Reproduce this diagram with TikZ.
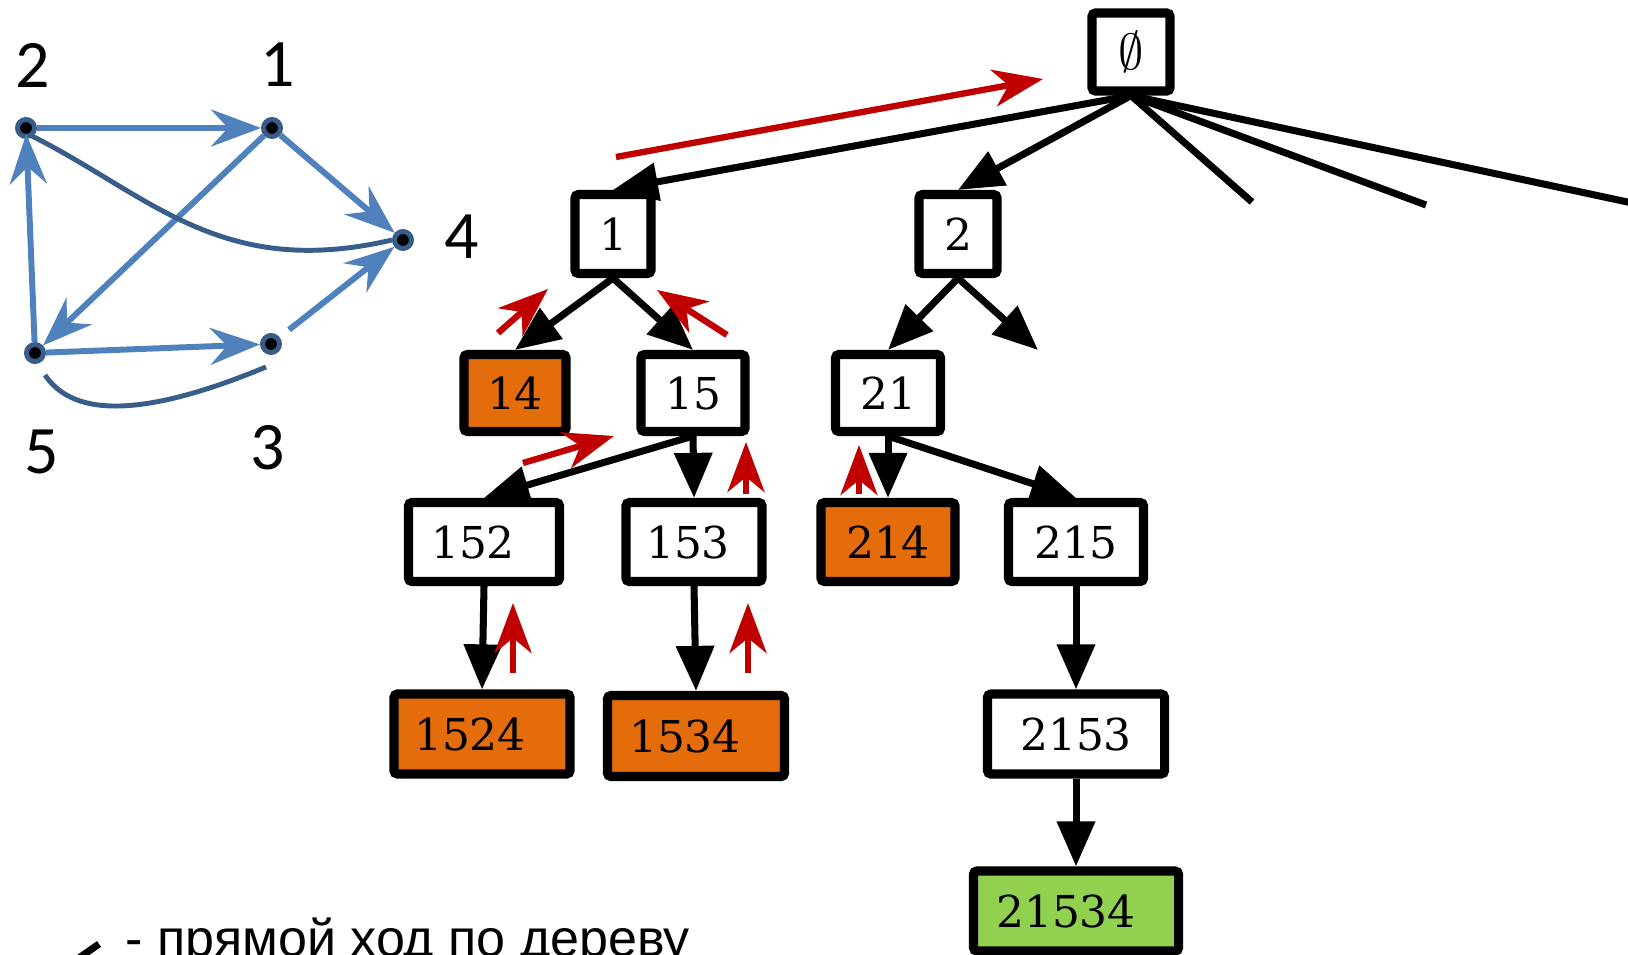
\documentclass[tikz,border=0pt]{standalone}
\usepackage{fontspec}
\newfontfamily\calibfont{Carlito}
\newfontfamily\arialfont{Liberation Sans}
\newfontfamily\cifrfont{DejaVu Serif}
\usetikzlibrary{arrows.meta}
\definecolor{sin}{HTML}{4F81BD}
\definecolor{tsin}{HTML}{385D8A}
\definecolor{krasn}{HTML}{C00000}
\definecolor{oranzh}{HTML}{E46C0A}
\definecolor{zel}{HTML}{92D050}
\newcommand{\lev}[2]{\hspace*{-#1}#2}
\tikzset{
  vershina/.style={circle,fill=black,draw=tsin,line width=1.4pt,minimum size=0.17cm,inner sep=0pt},
  metka/.style={font=\calibfont\fontsize{19.3}{22}\selectfont,inner sep=0pt},
  duga/.style={draw=sin,line width=1.7pt,-{Stealth[length=0.5cm,width=0.37cm,inset=0.17cm]}},
  krivaya/.style={draw=tsin,line width=1.4pt},
  yach/.style={draw,line width=2.6pt,rounded corners=1pt,fill=white,minimum height=0.79cm,
    inner sep=0pt,font=\cifrfont\fontsize{12.5}{15}\selectfont},
  tup/.style={yach,fill=oranzh},
  otvet/.style={yach,fill=zel},
  vetv/.style={line width=2pt},
  hod/.style={vetv,-{Triangle[length=0.45cm,width=0.37cm]}},
  obr/.style={draw=krasn,line width=1.8pt,-{Stealth[length=0.5cm,width=0.37cm,inset=0.15cm]}},
}
\begin{document}
\begin{tikzpicture}[x=0.01cm,y=-0.01cm]
  \useasboundingbox (0,0) rectangle (1628,955);
  % graf
  \node[vershina] (g1) at (272,128) {};
  \node[vershina] (g2) at (26,128) {};
  \node[vershina] (g3) at (271,344) {};
  \node[vershina] (g4) at (403,240) {};
  \node[vershina] (g5) at (35,353) {};
  \node[metka] (t1) at (278,65) {1};
  \node[metka] (t2) at (33,65) {2};
  \node[metka] (t3) at (268,448) {3};
  \node[metka] (t4) at (462,237) {4};
  \node[metka] (t5) at (42,452) {5};
  \draw[duga] (g2) -- (g1);
  \draw[duga] (g1) -- (g4);
  \draw[duga] (g1) -- (g5);
  \draw[duga,shorten >=-0.05cm] (g5) -- (g2);
  \draw[duga] (g5) -- (g3);
  \draw[duga,shorten <=0.12cm] (g3) -- (g4);
  \coordinate (c2) at (30,135);
  \coordinate (c5) at (45,375);
  \coordinate (c3) at (266,367);
  \draw[krivaya] (c2) .. controls (150,195) and (220,280) .. (g4.west);
  \draw[krivaya] (c5) .. controls (75,420) and (150,415) .. (c3);
  % derevo
  \node[yach,minimum width=0.78cm,minimum height=0.78cm] (e) at (1131,52)
    {\fontsize{15.5}{18}\selectfont$\emptyset$};
  \node[yach,minimum width=0.76cm] (n1) at (613,234) {1};
  \node[yach,minimum width=0.78cm] (n2) at (958,234) {2};
  \node[tup,minimum width=1.02cm,minimum height=0.77cm] (n14) at (515,393) {14};
  \node[yach,minimum width=1.04cm,minimum height=0.77cm] (n15) at (693,393) {15};
  \node[yach,minimum width=1.05cm,minimum height=0.77cm] (n21) at (888,393) {21};
  \node[yach,minimum width=1.51cm] (n152) at (484,542) {\lev{0.22cm}{152}};
  \node[yach,minimum width=1.36cm] (n153) at (694,542) {\lev{0.12cm}{153}};
  \node[tup,minimum width=1.34cm] (n214) at (888,542) {214};
  \node[yach,minimum width=1.35cm] (n215) at (1076,542) {215};
  \node[tup,minimum width=1.76cm,minimum height=0.80cm] (n1524) at (482,734) {\lev{0.24cm}{1524}};
  \node[tup,minimum width=1.77cm,minimum height=0.81cm] (n1534) at (696,736) {\lev{0.22cm}{1534}};
  \node[yach,minimum width=1.77cm,minimum height=0.80cm] (n2153) at (1076,734) {2153};
  \node[otvet,minimum width=2.05cm,minimum height=0.80cm] (n21534) at (1076,911) {\lev{0.2cm}{21534}};
  \coordinate (s1) at (1252,202);
  \coordinate (s2) at (1426,205);
  \coordinate (s3) at (1660,209);
  \coordinate (k2) at (1038,350);
  \draw[hod] (e.south) -- (n1.north);
  \draw[hod] (e.south) -- (n2.north);
  \draw[vetv] (e.south) -- (s1);
  \draw[vetv] (e.south) -- (s2);
  \draw[vetv] (e.south) -- (s3);
  \draw[hod] (n1.south) -- (n14.north);
  \draw[hod] (n1.south) -- (n15.north);
  \draw[hod] (n2.south) -- (n21.north);
  \draw[hod] (n2.south) -- (k2);
  \draw[hod] (n15.south) -- (n152.north);
  \draw[hod] (n15.south) -- (n153.north);
  \draw[hod] (n21.south) -- (n214.north);
  \draw[hod] (n21.south) -- (n215.north);
  \draw[hod] (n152.south) -- (n1524.north);
  \draw[hod] (n153.south) -- (n1534.north);
  \draw[hod] (n215.south) -- (n2153.north);
  \draw[hod] (n2153.south) -- (n21534.north);
  % obratnyj hod
  \draw[obr] (616,157) -- (1043,79);
  \draw[obr] (498,333) -- (548,289);
  \draw[obr] (727,335) -- (657,290);
  \draw[obr] (523,463) -- (614,436);
  \draw[obr] (746,494) -- (746,442);
  \draw[obr] (859,494) -- (859,445);
  \draw[obr] (513,673) -- (513,603);
  \draw[obr] (748,673) -- (748,603);
  % legenda
  \coordinate (l1) at (99,944);
  \coordinate (l2) at (10,1006);
  \draw[hod] (l1) -- (l2);
  \node[anchor=base west,inner sep=0pt,font=\arialfont\fontsize{14.8}{17}\selectfont] (leg) at (125,956)
    {- прямой ход по дереву};
\end{tikzpicture}
\end{document}
